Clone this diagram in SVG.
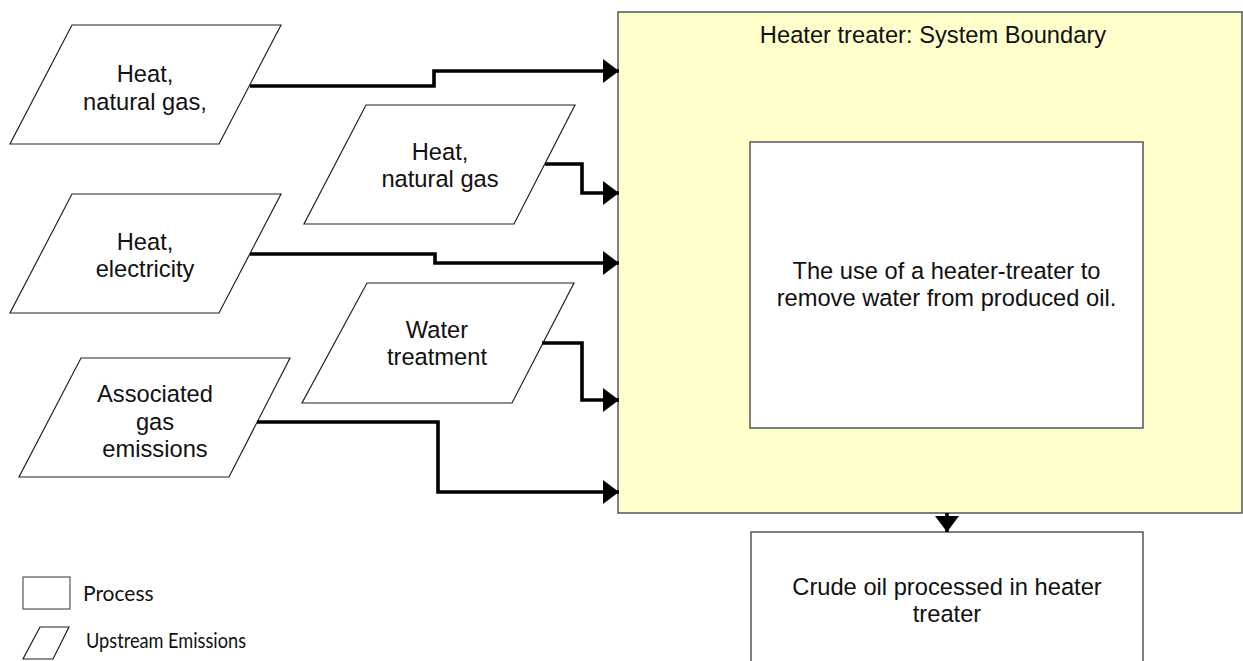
<svg xmlns="http://www.w3.org/2000/svg" width="1243" height="661" viewBox="0 0 1243 661">
<defs>
<style>
.para{fill:#fff;stroke:#222;stroke-width:1.2}
.box{fill:#fff;stroke:#555;stroke-width:1.5}
.t{font-family:"Liberation Sans",Arial,sans-serif;font-size:23.7px;fill:#111;text-anchor:middle}
.leg{font-family:Lato,"Open Sans",sans-serif;font-size:21px;fill:#111}
.con{fill:none;stroke:#000;stroke-width:3.6;stroke-linejoin:miter}
</style>
<marker id="ah" markerUnits="userSpaceOnUse" markerWidth="18" markerHeight="26" refX="16" refY="12" orient="auto">
<path d="M0,0 L16,12 L0,24 Z" fill="#000"/>
</marker>
</defs>
<g id="boundary">
<rect x="618" y="12" width="624" height="501" fill="#FFFFCC" stroke="#555" stroke-width="1.5"/>
<text class="t" x="933" y="43">Heater treater: System Boundary</text>
</g>
<g id="heater-treater">
<rect class="box" x="750" y="142" width="393" height="286"/>
<text class="t" x="946.5" y="279">The use of a heater-treater to</text>
<text class="t" x="946.5" y="306">remove water from produced oil.</text>
</g>
<g id="crude-oil">
<rect class="box" x="751" y="532" width="392" height="140"/>
<text class="t" x="947" y="595">Crude oil processed in heater</text>
<text class="t" x="947" y="622">treater</text>
</g>
<g id="heat-natural-gas-1">
<polygon class="para" points="72,25 281,25 219,144 10,144"/>
<text class="t" x="145" y="82">Heat,</text>
<text class="t" x="145" y="110">natural gas,</text>
</g>
<g id="heat-natural-gas-2">
<polygon class="para" points="366,105 575,105 514,224 304,224"/>
<text class="t" x="440" y="160">Heat,</text>
<text class="t" x="440" y="187">natural gas</text>
</g>
<g id="heat-electricity">
<polygon class="para" points="72,194 281,194 219,313 10,313"/>
<text class="t" x="145" y="250">Heat,</text>
<text class="t" x="145" y="277">electricity</text>
</g>
<g id="water-treatment">
<polygon class="para" points="367,283 574,283 512,403 302,403"/>
<text class="t" x="437" y="338">Water</text>
<text class="t" x="437" y="365">treatment</text>
</g>
<g id="associated-gas">
<polygon class="para" points="81,358 290,358 229,477 19,477"/>
<text class="t" x="155" y="402">Associated</text>
<text class="t" x="155" y="430">gas</text>
<text class="t" x="155" y="457">emissions</text>
</g>
<g id="connectors">
<path class="con" marker-end="url(#ah)" d="M250,86 H434 V71 H619"/>
<path class="con" marker-end="url(#ah)" d="M545,164 H582 V193 H619"/>
<path class="con" marker-end="url(#ah)" d="M250,254 H435 V263 H619"/>
<path class="con" marker-end="url(#ah)" d="M542,343 H582 V400 H619"/>
<path class="con" marker-end="url(#ah)" d="M257,422 H438 V492 H619"/>
<path class="con" marker-end="url(#ah)" d="M947,513 V532"/>
</g>
<g id="legend">
<rect x="23" y="577" width="47" height="32" fill="#fff" stroke="#555" stroke-width="1.2"/>
<text class="leg" x="83" y="601">Process</text>
<polygon points="40,627 69,627 53,659 23,659" fill="#fff" stroke="#222" stroke-width="1.2"/>
<text class="leg" x="86" y="648" textLength="160" lengthAdjust="spacingAndGlyphs">Upstream Emissions</text>
</g>
</svg>
